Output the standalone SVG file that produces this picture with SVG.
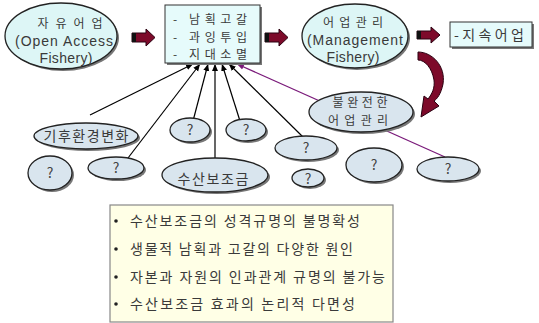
<svg xmlns="http://www.w3.org/2000/svg" width="539" height="323" viewBox="0 0 539 323">
<style>
text{font-family:"Noto Sans CJK KR","Liberation Sans",sans-serif;fill:#3a3a3a;}
.lat{font-family:"Liberation Sans","Noto Sans CJK KR",sans-serif;font-size:14px;}
.t14{font-size:14px;}
.t12{font-size:12px;}
.q{font-size:14px;text-anchor:middle;fill:#444;}
.top{fill:#ddf6f6;stroke:#222;stroke-width:1.3;}
.sh{fill:#777;}
.blu{fill:#d9e5ee;stroke:#222;stroke-width:1.3;}
.ln{stroke:#000;stroke-width:1.2;fill:none;marker-end:url(#ah);}
.blk{fill:#7d0a2a;stroke:#2a0010;stroke-width:1;}
.mid{text-anchor:middle;}
</style>
<defs>
<marker id="ah" markerWidth="8" markerHeight="8" refX="7" refY="4" orient="auto" markerUnits="userSpaceOnUse">
<path d="M0,1 L7,4 L0,7 Z" fill="#000"/>
</marker>
<marker id="ahp" markerWidth="8" markerHeight="8" refX="7" refY="4" orient="auto" markerUnits="userSpaceOnUse">
<path d="M0,1 L7,4 L0,7 Z" fill="#7a1a7a"/>
</marker>
</defs>

<g id="connectors">
<line class="ln" x1="90" y1="115" x2="193" y2="64"/>
<line class="ln" x1="128" y1="158" x2="200" y2="64"/>
<line class="ln" x1="193" y1="121" x2="208" y2="64"/>
<line class="ln" x1="215" y1="160" x2="215" y2="64"/>
<line class="ln" x1="240" y1="121" x2="222" y2="64"/>
<line class="ln" x1="303" y1="137" x2="229" y2="64"/>
<line x1="445" y1="157" x2="237" y2="64" stroke="#7a1a7a" stroke-width="1.3" marker-end="url(#ahp)"/>
</g>

<g id="arrow1">
<polygon class="blk" points="132,33 146,33 146,29 155,37.5 146,46 146,42 132,42"/>
<rect x="132" y="33" width="4" height="9" fill="#111"/>
</g>
<g id="arrow2">
<polygon class="blk" points="265,33 279,33 279,29 288,37.5 279,46 279,42 265,42"/>
<rect x="265" y="33" width="4" height="9" fill="#111"/>
</g>
<g id="arrow3">
<polygon class="blk" points="417,31 431,31 431,27 440,35 431,43 431,39 417,39"/>
<rect x="417" y="31" width="4" height="8" fill="#111"/>
</g>
<g id="curved-arrow">
<path class="blk" d="M418,52 C432,52 446,66 443,84 C441,94 437,99 434,101 L439,106 L421,117 L424,96 L428,99 C432,94 435,88 434,80 C432,68 425,60 418,60 Z"/>
</g>

<g id="open-access">
<ellipse class="sh" cx="63" cy="38" rx="56" ry="33"/>
<ellipse class="top" cx="61" cy="36" rx="56" ry="33"/>
<text class="t12 mid" x="70" y="28" textLength="65">자유어업</text>
<text class="lat mid" x="64" y="46" textLength="98">(Open Access</text>
<text class="lat mid" x="66" y="63" textLength="53">Fishery)</text>
</g>

<g id="problems">
<rect x="167" y="7" width="95" height="58" fill="#777"/>
<rect x="165" y="5" width="95" height="58" fill="#e6fbfb" stroke="#333" stroke-width="1"/>
<text class="t12" x="173" y="24" textLength="74">- 남획고갈</text>
<text class="t12" x="173" y="41.5" textLength="74">- 과잉투입</text>
<text class="t12" x="173" y="59" textLength="74">- 지대소멸</text>
</g>

<g id="management">
<ellipse class="sh" cx="357" cy="38" rx="53" ry="32"/>
<ellipse class="top" cx="355" cy="36" rx="53" ry="32"/>
<text class="t12 mid" x="353" y="27" textLength="60">어업관리</text>
<text class="lat mid" x="355" y="45" textLength="96">(Management</text>
<text class="lat mid" x="353" y="62" textLength="53">Fishery)</text>
</g>

<g id="sustainable">
<rect x="452" y="24" width="82" height="25" fill="#777"/>
<rect x="450" y="22" width="82" height="25" fill="#e6fbfb" stroke="#333" stroke-width="1"/>
<text class="t14" x="454" y="40" textLength="70">-지속어업</text>
</g>

<g id="incomplete">
<ellipse class="sh" cx="363" cy="114" rx="52" ry="20"/>
<ellipse class="blu" cx="361" cy="112" rx="52" ry="20"/>
<text class="t12 mid" x="360" y="107" textLength="55">불완전한</text>
<text class="t12 mid" x="358" y="125" textLength="60">어업관리</text>
</g>

<g id="climate">
<ellipse class="sh" cx="88" cy="138" rx="52" ry="13"/>
<ellipse class="blu" cx="86" cy="136" rx="52" ry="13"/>
<text class="t14 mid" x="86" y="141" textLength="85">기후환경변화</text>
</g>
<g id="q1">
<ellipse class="sh" cx="52" cy="175" rx="22" ry="17"/>
<ellipse class="blu" cx="50" cy="173" rx="22" ry="17"/>
<text class="q" x="50" y="178">?</text>
</g>
<g id="q2">
<ellipse class="sh" cx="118" cy="170" rx="28" ry="11"/>
<ellipse class="blu" cx="116" cy="168" rx="28" ry="11"/>
<text class="q" x="116" y="173">?</text>
</g>
<g id="q3">
<ellipse class="sh" cx="192" cy="132" rx="20" ry="12"/>
<ellipse class="blu" cx="190" cy="130" rx="20" ry="12"/>
<text class="q" x="190" y="135">?</text>
</g>
<g id="q4">
<ellipse class="sh" cx="248" cy="132" rx="20" ry="11"/>
<ellipse class="blu" cx="246" cy="130" rx="20" ry="11"/>
<text class="q" x="246" y="135">?</text>
</g>
<g id="subsidy">
<ellipse class="sh" cx="217" cy="177" rx="53" ry="17"/>
<ellipse class="blu" cx="215" cy="175" rx="53" ry="17"/>
<text class="t14 mid" x="213" y="184" textLength="71">수산보조금</text>
</g>
<g id="q5">
<ellipse class="sh" cx="308" cy="150" rx="31" ry="12"/>
<ellipse class="blu" cx="306" cy="148" rx="31" ry="12"/>
<text class="q" x="306" y="153">?</text>
</g>
<g id="q6">
<ellipse class="sh" cx="310" cy="180" rx="16" ry="9"/>
<ellipse class="blu" cx="308" cy="178" rx="16" ry="9"/>
<text class="q" x="308" y="184">?</text>
</g>
<g id="q7">
<ellipse class="sh" cx="376" cy="167" rx="28" ry="17"/>
<ellipse class="blu" cx="374" cy="165" rx="28" ry="17"/>
<text class="q" x="374" y="170">?</text>
</g>
<g id="q8">
<ellipse class="sh" cx="450" cy="171" rx="31" ry="12"/>
<ellipse class="blu" cx="448" cy="169" rx="31" ry="12"/>
<text class="q" x="448" y="174">?</text>
</g>

<g id="notes">
<rect x="110" y="205" width="283" height="117" fill="#ffffe6" stroke="#888" stroke-width="1.2"/>
<circle cx="116" cy="221" r="1.8" fill="#222"/>
<text class="t14" x="130" y="226" textLength="230">수산보조금의 성격규명의 불명확성</text>
<circle cx="116" cy="249" r="1.8" fill="#222"/>
<text class="t14" x="130" y="254" textLength="223">생물적 남획과 고갈의 다양한 원인</text>
<circle cx="116" cy="277" r="1.8" fill="#222"/>
<text class="t14" x="130" y="282" textLength="255">자본과 자원의 인과관계 규명의 불가능</text>
<circle cx="116" cy="304" r="1.8" fill="#222"/>
<text class="t14" x="130" y="309" textLength="225">수산보조금 효과의 논리적 다면성</text>
</g>
</svg>
